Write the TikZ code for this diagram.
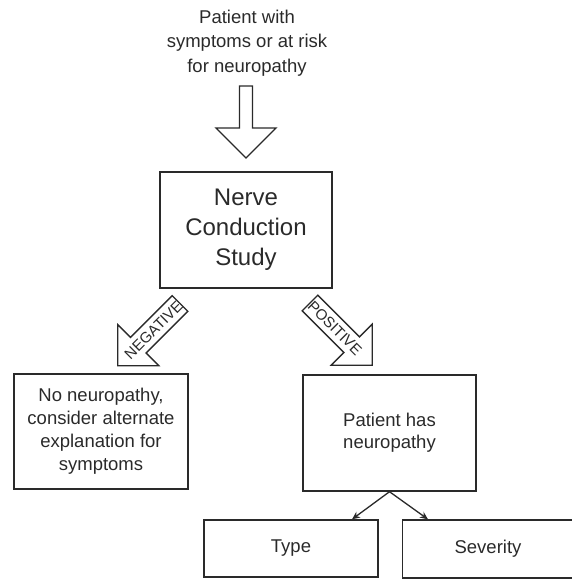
\documentclass[tikz,border=0pt]{standalone}
\usepackage{fontspec}
\setmainfont{Liberation Sans}
\usetikzlibrary{calc,arrows.meta}
\definecolor{ink}{HTML}{2A2A2A}
\begin{document}
\begin{tikzpicture}[x=1pt,y=-1pt,
  box/.style={draw=ink, line width=1.4pt, rectangle, inner sep=0pt, align=center, text=ink},
  bigtxt/.style={font=\fontsize{24}{30}\selectfont},
  midtxt/.style={font=\fontsize{18.5}{23}\selectfont},
  lbl/.style={text=ink, font=\fontsize{15}{15}\selectfont, inner sep=0pt},
  hollow/.style={draw=ink, line width=1.4pt, fill=white, line join=miter},
  thinarrow/.style={draw=ink, line width=1.3pt, -{Stealth[length=8pt,width=7pt]}},
  pics/blockarrow/.style n args={3}{code={\draw[hollow] (0,-#2) -- ({#1-#3},-#2) -- ({#1-#3},-#3) -- (#1,0) -- ({#1-#3},#3) -- ({#1-#3},#2) -- (0,#2) -- cycle;}}
]
\useasboundingbox (0,0) rectangle (572,584);

% top text
\node[text=ink, align=center, font=\fontsize{18.5}{24.5}\selectfont] (pt) at (247,43) {Patient with\\symptoms or at risk\\for neuropathy};

% boxes
\node[box, bigtxt, minimum width=172pt, minimum height=116pt] (ncs) at (246,230) {Nerve\\Conduction\\Study};
\node[box, midtxt, minimum width=174pt, minimum height=115pt] (no) at (101,431.5) {No neuropathy,\\consider alternate\\explanation for\\symptoms};
\node[box, midtxt, font=\fontsize{18.5}{22}\selectfont, minimum width=173pt, minimum height=116pt] (yes) at (389.5,433) {Patient has\\neuropathy};
\node[box, midtxt, minimum width=174pt, minimum height=57pt] (type) at (291,548.5) {Type};
\node[box, midtxt, minimum width=171pt, minimum height=58pt] (sev) at (488,549) {Severity};

% block arrows
\coordinate (topstart) at (246,86);
\pic[rotate=270] at (topstart) {blockarrow={72}{6.5}{30}};

\coordinate (negstart) at (180,303.5);
\pic[rotate=225] at (negstart) {blockarrow={88}{11}{29}};
\node[lbl, rotate=45] (neg) at ($(negstart)+(-26.5,26.5)$) {NEGATIVE};

\coordinate (posstart) at (310,303);
\pic[rotate=-45] at (posstart) {blockarrow={88}{11}{29}};
\node[lbl, rotate=-45] (pos) at ($(posstart)+(25,25)$) {POSITIVE};

% small arrows
\draw[thinarrow] (yes.south) -- ($(type.north)+(61,0)$);
\draw[thinarrow] (yes.south) -- ($(sev.north)+(-60,0)$);
\end{tikzpicture}
\end{document}
